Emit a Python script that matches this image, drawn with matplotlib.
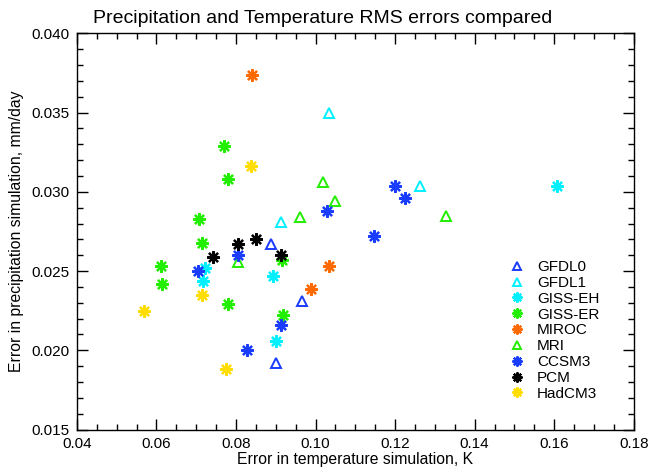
import matplotlib
matplotlib.use("Agg")
import matplotlib.pyplot as plt
from matplotlib.ticker import MultipleLocator, FormatStrFormatter

plt.rcParams['font.family'] = ['Liberation Sans', 'DejaVu Sans']

models = ["GFDL0", "GFDL1", "GISS-EH", "GISS-ER", "MIROC", "MRI", "CCSM3", "PCM", "HadCM3"]
colors = ["#1a3cff", "#00f0ff", "#00f0ff", "#22ee00", "#ff6a00", "#22ee00", "#1a3cff", "#000000", "#ffdd00"]
markers = ["tri", "tri", "ast", "ast", "ast", "tri", "ast", "ast", "ast"]

gfdl0_t = [0.0889, 0.0965, 0.0900]
gfdl0_p = [0.0267, 0.0231, 0.0192]
gfdl1_t = [0.1033, 0.0913, 0.1262]
gfdl1_p = [0.0350, 0.0281, 0.0304]
gisseh_t = [0.0723, 0.0718, 0.0893, 0.0901, 0.1608]
gisseh_p = [0.0252, 0.0244, 0.0247, 0.0206, 0.0304]
gisser_t = [0.0707, 0.0715, 0.0612, 0.0615, 0.0771, 0.0781, 0.0916, 0.0779, 0.0918]
gisser_p = [0.0283, 0.0268, 0.0253, 0.0242, 0.0329, 0.0308, 0.0257, 0.0229, 0.0222]
miroc_t = [0.0841, 0.1035, 0.0988]
miroc_p = [0.0374, 0.0253, 0.0239]
mri_t = [0.1018, 0.1050, 0.0960, 0.0804, 0.1327]
mri_p = [0.0306, 0.0294, 0.0284, 0.0256, 0.0285]
ccsm3_t = [0.0704, 0.1029, 0.1146, 0.0804, 0.0914, 0.0827, 0.1199, 0.1226]
ccsm3_p = [0.0250, 0.0288, 0.0272, 0.0260, 0.0216, 0.0200, 0.0304, 0.0296]
pcm_t = [0.0741, 0.0806, 0.0849, 0.0914]
pcm_p = [0.0259, 0.0267, 0.0270, 0.0260]
hadcm3_t = [0.0714, 0.0569, 0.0838, 0.0775]
hadcm3_p = [0.0235, 0.0225, 0.0316, 0.0188]

temps = [gfdl0_t, gfdl1_t, gisseh_t, gisser_t, miroc_t, mri_t, ccsm3_t, pcm_t, hadcm3_t]
precs = [gfdl0_p, gfdl1_p, gisseh_p, gisser_p, miroc_p, mri_p, ccsm3_p, pcm_p, hadcm3_p]

fig = plt.figure(figsize=(6.52, 4.70), dpi=100)
ax = fig.add_axes([0.118, 0.086, 0.854, 0.843])

for name, c, m, t, p in zip(models, colors, markers, temps, precs):
    if m == "tri":
        ax.plot(t, p, linestyle='none', marker='^', markersize=7.5, markerfacecolor='none',
                markeredgecolor=c, markeredgewidth=1.4, label=name)
    else:
        ax.plot(t, p, linestyle='none', marker=(8, 2, 0), markersize=9,
                markeredgecolor=c, markerfacecolor=c, markeredgewidth=1.6, label=name)

ax.set_xlim(0.04, 0.18)
ax.set_ylim(0.015, 0.040)
ax.xaxis.set_major_locator(MultipleLocator(0.02))
ax.xaxis.set_minor_locator(MultipleLocator(0.005))
ax.yaxis.set_major_locator(MultipleLocator(0.005))
ax.yaxis.set_minor_locator(MultipleLocator(0.001))
ax.xaxis.set_major_formatter(FormatStrFormatter('%.2f'))
ax.yaxis.set_major_formatter(FormatStrFormatter('%.3f'))
ax.tick_params(which='both', direction='in', top=True, right=True, labelsize=11, width=1)
ax.tick_params(which='major', length=8, pad=5)
ax.tick_params(which='minor', length=4)
for s in ax.spines.values():
    s.set_linewidth(1)

fig.suptitle("Precipitation and Temperature RMS errors compared", fontsize=14, x=0.495, y=0.978)
ax.set_xlabel("Error in temperature simulation, K", fontsize=11.3, labelpad=1)
ax.set_ylabel("Error in precipitation simulation, mm/day", fontsize=11.3, labelpad=6)

leg = ax.legend(loc='upper left', bbox_to_anchor=(0.763, 0.447), frameon=False, fontsize=11,
                handlelength=1.0, handletextpad=0.8, labelspacing=0.12, borderpad=0,
                markerscale=0.8)

fig.savefig("out.png", dpi=100)
